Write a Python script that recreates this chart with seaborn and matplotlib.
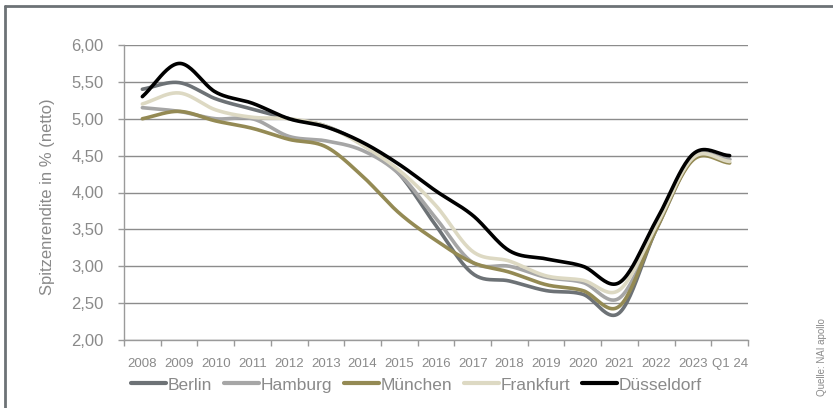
import numpy as np
import pandas as pd
import matplotlib
matplotlib.use("Agg")
import matplotlib.pyplot as plt
from matplotlib.lines import Line2D
from matplotlib.ticker import FuncFormatter, FixedLocator
import seaborn as sns

# values (net prime yield in %)
years = ['2008', '2009', '2010', '2011', '2012', '2013', '2014', '2015', '2016',
         '2017', '2018', '2019', '2020', '2021', '2022', '2023', 'Q1 24']
berlin = [5.40, 5.49, 5.27, 5.13, 5.00, 4.90, 4.65, 4.25, 3.55, 2.90, 2.80, 2.67, 2.62, 2.37, 3.50, 4.46, 4.45]
hamburg = [5.15, 5.10, 5.00, 5.00, 4.76, 4.70, 4.57, 4.25, 3.65, 3.05, 3.00, 2.85, 2.78, 2.57, 3.50, 4.46, 4.45]
muenchen = [5.00, 5.10, 4.97, 4.87, 4.72, 4.62, 4.22, 3.72, 3.35, 3.05, 2.92, 2.75, 2.67, 2.46, 3.50, 4.44, 4.40]
frankfurt = [5.20, 5.35, 5.12, 5.02, 5.00, 4.90, 4.64, 4.30, 3.82, 3.20, 3.07, 2.87, 2.81, 2.68, 3.55, 4.47, 4.42]
duesseldorf = [5.30, 5.75, 5.36, 5.21, 5.00, 4.89, 4.68, 4.38, 4.02, 3.69, 3.21, 3.10, 3.00, 2.78, 3.62, 4.52, 4.50]

cities = ['Berlin', 'Hamburg', 'München', 'Frankfurt', 'Düsseldorf']
series = [berlin, hamburg, muenchen, frankfurt, duesseldorf]
colors = ['#6d7276', '#a6a6a6', '#948a54', '#ddd9c3', '#000000']
text_grey = '#8a8a8a'


def smooth(vals, n=24):
    # Excel style smoothed line (Catmull-Rom through the points)
    p = np.asarray(vals, dtype=float)
    e = np.r_[2 * p[0] - p[1], p, 2 * p[-1] - p[-2]]
    xs, ys = [], []
    t = np.linspace(0, 1, n, endpoint=False)
    for i in range(len(p) - 1):
        p0, p1, p2, p3 = e[i:i + 4]
        ys.append(0.5 * (2 * p1 + (-p0 + p2) * t + (2 * p0 - 5 * p1 + 4 * p2 - p3) * t ** 2
                         + (-p0 + 3 * p1 - 3 * p2 + p3) * t ** 3))
        xs.append(i + t)
    xs.append([len(p) - 1])
    ys.append([p[-1]])
    return np.concatenate(xs), np.concatenate(ys)


frames = []
for name, vals in zip(cities, series):
    sx, sy = smooth(vals)
    frames.append(pd.DataFrame({'x': sx, 'wert': sy, 'stadt': name}))
df = pd.concat(frames, ignore_index=True)

sns.set_style('white')
plt.rcParams['font.family'] = ['Liberation Sans', 'DejaVu Sans']

fig = plt.figure(figsize=(8.33, 4.08), dpi=100)
ax = fig.add_axes([124 / 833, 1 - 340 / 408, 624 / 833, 295 / 408])

sns.lineplot(data=df, x='x', y='wert', hue='stadt', hue_order=cities,
             palette=dict(zip(cities, colors)), linewidth=2.6, legend=False,
             sort=False, ax=ax)

ax.set_xlim(-0.5, len(years) - 0.5)
ax.set_ylim(2.0, 6.0)
ax.set_yticks(np.arange(2.0, 6.01, 0.5))
ax.yaxis.set_major_formatter(FuncFormatter(lambda v, p: f'{v:.2f}'.replace('.', ',')))
ax.set_xticks(range(len(years)))
ax.set_xticklabels(years)
ax.xaxis.set_minor_locator(FixedLocator(np.arange(-0.5, len(years), 1.0)))
ax.set_xlabel('')
ax.set_ylabel('')

ax.grid(axis='y', color='#8c8c8c', linewidth=1.0)
ax.grid(axis='x', visible=False)
ax.set_axisbelow(True)
for s in ['top', 'right']:
    ax.spines[s].set_visible(False)
for s in ['left', 'bottom']:
    ax.spines[s].set_color('#9a9a9a')
    ax.spines[s].set_linewidth(1.0)

ax.tick_params(axis='y', which='major', left=True, length=4.5, width=1, color='#9a9a9a',
               labelsize=12, labelcolor=text_grey, pad=10)
ax.tick_params(axis='x', which='major', bottom=False, length=0, labelsize=9.5,
               labelcolor=text_grey, pad=13)
ax.tick_params(axis='x', which='minor', bottom=True, length=4, width=1, color='#9a9a9a')

fig.text(48 / 833, 1 - 197 / 408, 'Spitzenrendite in % (netto)', rotation=90,
         ha='center', va='center', fontsize=12, color=text_grey)

handles = [Line2D([], [], color=c, linewidth=3) for c in colors]
fig.legend(handles, cities, loc='center', bbox_to_anchor=(0.5, 1 - 385 / 408),
           ncol=5, frameon=False, fontsize=12.5, handlelength=2.0, handletextpad=0.1,
           columnspacing=0.7, labelcolor=text_grey)

fig.text(822 / 833, 1 - 396 / 408, 'Quelle: NAI apollo', rotation=90,
         ha='center', va='bottom', fontsize=7, color=text_grey)

# frame around the chart
fig.add_artist(Line2D([5 / 833, 1.0], [1 - 6 / 408, 1 - 6 / 408], transform=fig.transFigure,
                      color='#6d7276', linewidth=2))
fig.add_artist(Line2D([5 / 833, 5 / 833], [1 - 6 / 408, 0.0], transform=fig.transFigure,
                      color='#6d7276', linewidth=2))

fig.savefig('out.png', dpi=100)
